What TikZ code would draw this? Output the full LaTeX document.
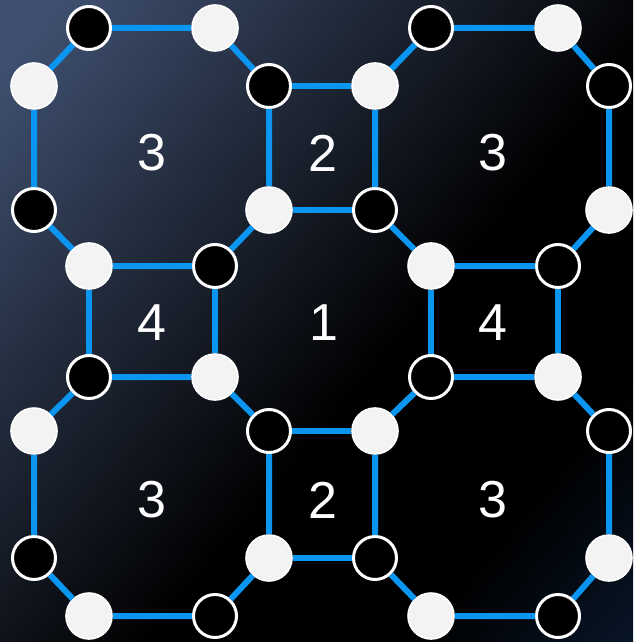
\documentclass[tikz,border=0pt]{standalone}
\usepackage{fontspec}
\setmainfont{Liberation Sans}
\usetikzlibrary{positioning}

\definecolor{edgeblue}{HTML}{0A96F0}
\definecolor{bgtl}{HTML}{3F5070}
\definecolor{bgbr}{HTML}{0A1A30}
\definecolor{dotwhite}{HTML}{F3F3F3}
\pgfdeclarehorizontalshading{bgshade}{100bp}{color(0bp)=(bgtl); color(18bp)=(bgtl); color(56bp)=(black); color(72bp)=(black); color(88bp)=(bgbr); color(100bp)=(bgbr)}

\tikzset{
  wdot/.style={circle, fill=dotwhite, draw=white, line width=0.8pt, minimum size=23pt, inner sep=0pt},
  bdot/.style={circle, fill=black, draw=white, line width=1.5pt, minimum size=21.5pt, inner sep=0pt},
  link/.style={edgeblue, line width=3pt},
  cellnum/.style={white, font=\fontsize{26}{26}\selectfont}
}

\begin{document}
\begin{tikzpicture}[x=0.5pt, y=-0.5pt]
    % Background
    \shade[shading=bgshade, shading angle=-40] (0,0) rectangle (633,642);
    \useasboundingbox (0,0) rectangle (633,642);

    % Top left octagon
    \node[bdot] (a1) at (89,28) {};
    \node[wdot] (a2) at (215,28) {};
    \node[wdot] (a3) at (34,86) {};
    \node[bdot] (a4) at (269,86) {};
    \node[bdot] (a5) at (34,210) {};
    \node[wdot] (a6) at (269,210) {};
    \node[wdot] (a7) at (89,266) {};
    \node[bdot] (a8) at (215,266) {};

    % Top right octagon
    \node[bdot] (b1) at (431,28) {};
    \node[wdot] (b2) at (558,28) {};
    \node[wdot] (b3) at (375,86) {};
    \node[bdot] (b4) at (609,86) {};
    \node[bdot] (b5) at (375,210) {};
    \node[wdot] (b6) at (609,210) {};
    \node[wdot] (b7) at (431,266) {};
    \node[bdot] (b8) at (558,266) {};

    % Bottom left octagon
    \node[bdot] (c1) at (89,377) {};
    \node[wdot] (c2) at (215,377) {};
    \node[wdot] (c3) at (34,431) {};
    \node[bdot] (c4) at (269,431) {};
    \node[bdot] (c5) at (34,558) {};
    \node[wdot] (c6) at (269,558) {};
    \node[wdot] (c7) at (89,616) {};
    \node[bdot] (c8) at (215,616) {};

    % Bottom right octagon
    \node[bdot] (d1) at (431,377) {};
    \node[wdot] (d2) at (558,377) {};
    \node[wdot] (d3) at (375,431) {};
    \node[bdot] (d4) at (609,431) {};
    \node[bdot] (d5) at (375,558) {};
    \node[wdot] (d6) at (609,558) {};
    \node[wdot] (d7) at (431,616) {};
    \node[bdot] (d8) at (558,616) {};

    % Octagon edges
    \foreach \o in {a,b,c,d}
        \draw[link] (\o1) -- (\o2) -- (\o4) -- (\o6) -- (\o8) -- (\o7) -- (\o5) -- (\o3) -- (\o1);

    % Square edges
    \draw[link] (a4) -- (b3);
    \draw[link] (a6) -- (b5);
    \draw[link] (a7) -- (c1);
    \draw[link] (a8) -- (c2);
    \draw[link] (b7) -- (d1);
    \draw[link] (b8) -- (d2);
    \draw[link] (c4) -- (d3);
    \draw[link] (c6) -- (d5);

    % Cell numbers
    \node[cellnum] (n3tl) at (152,153) {3};
    \node[cellnum] (n2t) at (323,153) {2};
    \node[cellnum] (n3tr) at (493,153) {3};
    \node[cellnum] (n4l) at (152,323) {4};
    \node[cellnum] (n1) at (324,323) {1};
    \node[cellnum] (n4r) at (493,323) {4};
    \node[cellnum] (n3bl) at (152,500) {3};
    \node[cellnum] (n2b) at (323,500) {2};
    \node[cellnum] (n3br) at (493,500) {3};
\end{tikzpicture}
\end{document}
